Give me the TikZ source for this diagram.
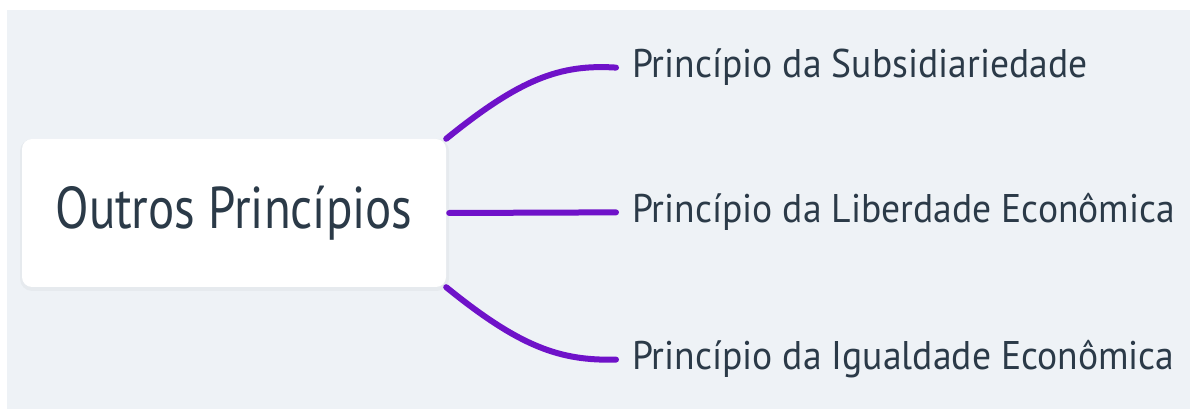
\documentclass[tikz,border=0pt]{standalone}
\usepackage{fontspec}
\setmainfont{PT Sans}
\newfontfamily\rootfont[FakeStretch=0.83]{PT Sans}
\newfontfamily\leaffont[FakeStretch=0.94]{PT Sans}
\definecolor{bggray}{HTML}{EEF2F6}
\definecolor{txt}{HTML}{2B3A48}
\definecolor{link}{HTML}{6F12C9}
\tikzset{
  rootbox/.style={fill=white, rounded corners=10pt, minimum width=424pt, minimum height=148pt, inner sep=0pt, text=txt, font=\rootfont\fontsize{59}{66}\selectfont},
  leaf/.style={anchor=base west, inner xsep=16pt, inner ysep=0pt, text=txt, font=\leaffont\fontsize{40}{46}\selectfont},
  conn/.style={draw=link, line width=6pt, line cap=round}
}
\begin{document}
\begin{tikzpicture}[x=1pt,y=1pt]
\fill[white] (0,0) rectangle (1190,409);
\fill[bggray] (7,0) rectangle (1190,399);
\useasboundingbox (0,0) rectangle (1190,409);
\fill[black, opacity=0.03, rounded corners=12pt] (20,118) rectangle (449,270);
\node[rootbox] (root) at (234,196) {Outros Princípios};
\node[leaf] (s1) at (616,331) {Princípio da Subsidiariedade};
\node[leaf] (s2) at (616,186) {Princípio da Liberdade Econômica};
\node[leaf] (s3) at (616,39) {Princípio da Igualdade Econômica};
\draw[conn] (root.north east) .. controls (520,330) and (560,345) .. (s1.west);
\draw[conn] ([xshift=3pt]root.east) -- (s2.west);
\draw[conn] (root.south east) .. controls (520,62) and (560,48) .. (s3.west);
\end{tikzpicture}
\end{document}
